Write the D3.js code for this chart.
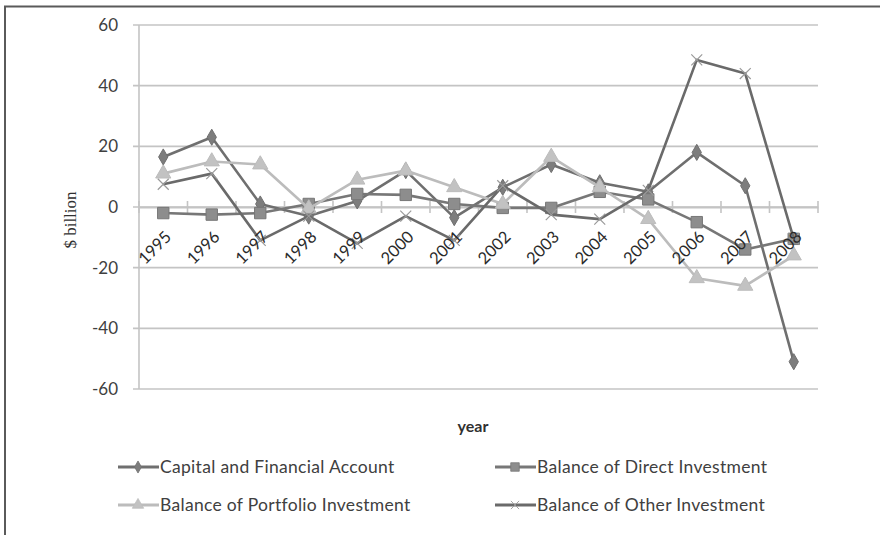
<!DOCTYPE html>
<html>
<head>
<meta charset="utf-8">
<script src="https://cdn.jsdelivr.net/npm/d3@7"></script>
<style>
body { margin: 0; background: #fff; }
</style>
</head>
<body>
<div id="chart"></div>
<script>
var years = ['1995', '1996', '1997', '1998', '1999', '2000', '2001', '2002', '2003', '2004', '2005', '2006', '2007', '2008'];
var yTicks = [-60, -40, -20, 0, 20, 40, 60];

var capitalAccount = [16.5, 23, 1, -3, 2, 12, -3.5, 6.5, 14, 8, 5, 18, 7, -51];
var directInvestment = [-2, -2.5, -2, 1, 4.3, 4, 1, -0.3, -0.3, 5, 2.5, -5, -14, -10.5];
var portfolioInvestment = [11, 15, 14, -0.5, 9, 12, 6.5, 1, 16.5, 6.5, -4, -23.5, -26, -16];
var otherInvestment = [7.5, 11, -11, -3, -12, -3, -11, 7, -2.5, -4, 5.5, 48.5, 44, -10.5];

var seriesNames = ['Capital and Financial Account', 'Balance of Direct Investment', 'Balance of Portfolio Investment', 'Balance of Other Investment'];

var font = 'Lato, "Open Sans", sans-serif';

var series = [
	{ name: seriesNames[0], values: capitalAccount, line: '#6f6f6f', fill: '#7d7d7d', marker: 'diamond' },
	{ name: seriesNames[1], values: directInvestment, line: '#777777', fill: '#8d8d8d', marker: 'square' },
	{ name: seriesNames[2], values: portfolioInvestment, line: '#bcbcbc', fill: '#c2c2c2', marker: 'triangle' },
	{ name: seriesNames[3], values: otherInvestment, line: '#6a6a6a', fill: '#9a9a9a', marker: 'cross' }
];

var svg = d3.select('#chart').append('svg').attr('width', 880).attr('height', 535);

// frame
svg.append('path')
	.attr('d', 'M5,535 L5,6.5 L880,6.5')
	.attr('fill', 'none')
	.attr('stroke', '#5a5a5a')
	.attr('stroke-width', 2);

var xScale = d3.scaleBand().domain(years).range([139, 818]);
var yScale = d3.scaleLinear().domain([-60, 60]).range([389, 25]);

// gridlines
svg.append('g').selectAll('line')
	.data(yTicks)
	.enter()
	.append('line')
	.attr('x1', 133).attr('x2', 818)
	.attr('y1', function(d) { return yScale(d); })
	.attr('y2', function(d) { return yScale(d); })
	.attr('stroke', '#c4c4c4')
	.attr('stroke-width', 1.6);

// y axis line
svg.append('line')
	.attr('x1', 139).attr('x2', 139)
	.attr('y1', yScale(60)).attr('y2', yScale(-60))
	.attr('stroke', '#c4c4c4').attr('stroke-width', 1.6);

var yAxis = d3.axisLeft(yScale).tickValues(yTicks).tickSize(0).tickPadding(21)
	.tickFormat(function(d) { return String(d); });
var yAxisG = svg.append('g').attr('transform', 'translate(139,0)').call(yAxis);
yAxisG.select('.domain').remove();
yAxisG.selectAll('text')
	.attr('font-family', font)
	.attr('font-size', 17)
	.attr('fill', '#404040');

// x axis on zero
var xAxis = d3.axisBottom(xScale).tickSize(0).tickFormat('');
var xAxisG = svg.append('g').attr('transform', 'translate(0,' + yScale(0) + ')').call(xAxis);
xAxisG.select('.domain').attr('stroke', '#c4c4c4').attr('stroke-width', 2);
xAxisG.selectAll('.tick').remove();

var bounds = years.map(function(d) { return xScale(d); }).concat([xScale.range()[1]]);
svg.append('g').selectAll('line')
	.data(bounds)
	.enter()
	.append('line')
	.attr('x1', function(d) { return d; }).attr('x2', function(d) { return d; })
	.attr('y1', yScale(0) - 6).attr('y2', yScale(0) + 6)
	.attr('stroke', '#c4c4c4').attr('stroke-width', 1.6);

var line = d3.line()
	.x(function(d, i) { return xScale(years[i]) + xScale.bandwidth() / 2; })
	.y(function(d) { return yScale(d); });

var symbols = {
	diamond: d3.symbol().type(d3.symbolDiamond).size(75),
	square: d3.symbol().type(d3.symbolSquare).size(130),
	triangle: d3.symbol().type(d3.symbolTriangle).size(100),
	cross: d3.symbol().type(d3.symbolTimes).size(80)
};

function drawMarker(g, s) {
	var m = g.append('path').attr('d', symbols[s.marker]());
	if (s.marker === 'cross') {
		m.attr('fill', 'none').attr('stroke', s.fill).attr('stroke-width', 1.2);
	} else {
		m.attr('fill', s.fill).attr('stroke', s.line).attr('stroke-width', 1);
	}
	return m;
}

series.forEach(function(s) {
	var g = svg.append('g');
	g.append('path')
		.attr('d', line(s.values))
		.attr('fill', 'none')
		.attr('stroke', s.line)
		.attr('stroke-width', 2.6)
		.attr('stroke-linejoin', 'round');
	s.values.forEach(function(v, i) {
		var mg = g.append('g')
			.attr('transform', 'translate(' + (xScale(years[i]) + xScale.bandwidth() / 2) + ',' + yScale(v) + ')');
		drawMarker(mg, s);
	});
});

// x labels rotated
svg.append('g').selectAll('text')
	.data(years)
	.enter()
	.append('text')
	.attr('transform', function(d) {
		return 'translate(' + (xScale(d) + xScale.bandwidth() / 2 + 5) + ',' + (yScale(0) + 27) + ') rotate(-45)';
	})
	.attr('text-anchor', 'end')
	.attr('dy', '0.35em')
	.attr('font-family', font)
	.attr('font-size', 16.5)
	.attr('fill', '#2a2a2a')
	.text(function(d) { return d; });

// axis titles
svg.append('text')
	.attr('transform', 'translate(76,220) rotate(-90)')
	.attr('text-anchor', 'middle')
	.attr('font-family', '"Liberation Serif", serif')
	.attr('font-size', 17)
	.attr('fill', '#303030')
	.text('$ billion');

svg.append('text')
	.attr('x', 473).attr('y', 432)
	.attr('text-anchor', 'middle')
	.attr('font-family', font)
	.attr('font-weight', 'bold')
	.attr('font-size', 16)
	.attr('fill', '#303030')
	.text('year');

// legend
var legendPos = [[118, 467], [495, 467], [118, 505], [495, 505]];
series.forEach(function(s, i) {
	var lg = svg.append('g').attr('transform', 'translate(' + legendPos[i][0] + ',' + legendPos[i][1] + ')');
	lg.append('line').attr('x1', 0).attr('x2', 41).attr('y1', 0).attr('y2', 0)
		.attr('stroke', s.line).attr('stroke-width', 3);
	var mg = lg.append('g').attr('transform', 'translate(20,0) scale(0.75)');
	drawMarker(mg, s);
	lg.append('text')
		.attr('x', 42).attr('y', 0).attr('dy', '0.35em')
		.attr('font-family', font)
		.attr('font-size', 17.5)
		.attr('letter-spacing', 0.3)
		.attr('fill', '#404040')
		.text(s.name);
});
</script>
</body>
</html>
